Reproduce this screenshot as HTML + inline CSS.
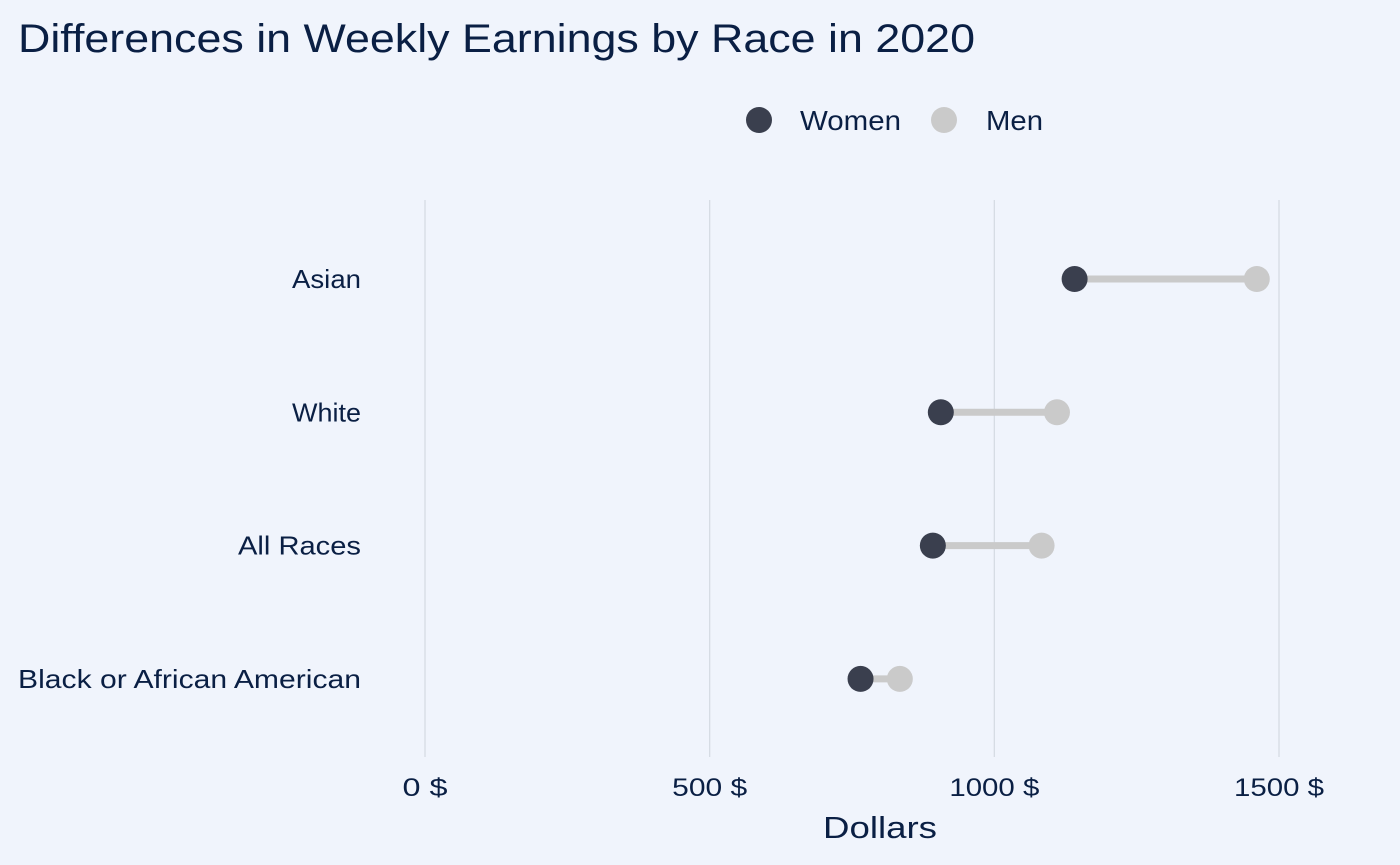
<!DOCTYPE html>
<html><head><meta charset="utf-8"><style>
html,body{margin:0;padding:0;background:#f0f4fc;}
svg{display:block;font-family:"Liberation Sans",Arial,sans-serif;}
</style></head><body>
<svg id="chart" width="1400" height="865" viewBox="0 0 1400 865">
<rect x="0" y="0" width="1400" height="865" fill="#f0f4fc"/>
<text x="18" y="52" font-size="40" fill="#0a1f44" textLength="957" lengthAdjust="spacingAndGlyphs">Differences in Weekly Earnings by Race in 2020</text>
<g>
<circle cx="759" cy="120" r="13" fill="#3a3f4e"/>
<text x="800" y="130" font-size="28" fill="#0a1f44" textLength="101" lengthAdjust="spacingAndGlyphs">Women</text>
<circle cx="944" cy="120" r="13" fill="#cacaca"/>
<text x="986" y="130" font-size="28" fill="#0a1f44" textLength="57" lengthAdjust="spacingAndGlyphs">Men</text>
</g>
<g id="grid"></g><g id="marks"></g><g id="labels"></g>
<text x="823" y="838" font-size="31" fill="#0a1f44" textLength="114" lengthAdjust="spacingAndGlyphs">Dollars</text>
</svg>
<script>
const categories = ["Asian","White","All Races","Black or African American"];
const women = [1141, 906, 892, 765];
const men = [1461, 1110, 1083, 834];
const ticks = [0, 500, 1000, 1500];
const tickLabels = ["0 $","500 $","1000 $","1500 $"];

const NS="http://www.w3.org/2000/svg";
function x(v){return 425 + v*(1279-425)/1500;}
function y(i){return 279 + i*133.3;}
function mk(tag,attrs,parent){const e=document.createElementNS(NS,tag);for(const k in attrs)e.setAttribute(k,attrs[k]);parent.appendChild(e);return e;}
const grid=document.getElementById('grid'),marks=document.getElementById('marks'),labels=document.getElementById('labels');
ticks.forEach((t,i)=>{
  const l=mk('line',{x1:x(t),x2:x(t),y1:200,y2:757,stroke:'#d6dbe4','stroke-width':1.3},grid);
  
  
  const tx=mk('text',{x:x(t),y:796,'font-size':25,fill:'#0a1f44','text-anchor':'middle'},labels);
  tx.textContent=tickLabels[i];
  tx.setAttribute('textLength', String(tickLabels[i].length*15));
  tx.setAttribute('lengthAdjust','spacingAndGlyphs');
  
  
});
categories.forEach((c,i)=>{
  const yy=y(i);
  const seg=mk('line',{x1:x(women[i]),x2:x(men[i]),y1:yy,y2:yy,stroke:'#cacaca','stroke-width':7},marks);
  
  
  const m=mk('circle',{cx:x(men[i]),cy:yy,r:13,fill:'#cacaca'},marks);
  
  
  const w=mk('circle',{cx:x(women[i]),cy:yy,r:13,fill:'#3a3f4e'},marks);
  
  
  const t=mk('text',{x:361,y:yy+9,'font-size':26,fill:'#0a1f44','text-anchor':'end'},labels);
  t.textContent=c;
  t.setAttribute('textLength', String(Math.round(c.length*13.72)));
  t.setAttribute('lengthAdjust','spacingAndGlyphs');
  
  
});
</script>
</body></html>
